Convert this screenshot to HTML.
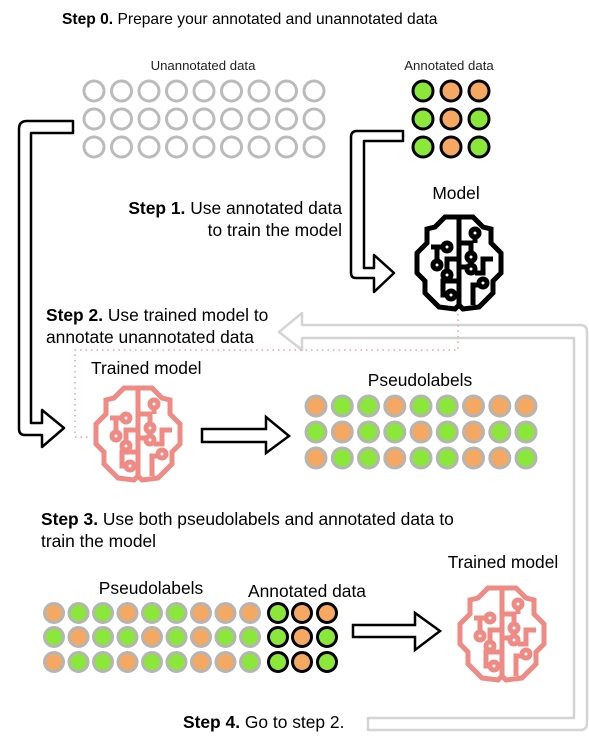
<!DOCTYPE html>
<html><head><meta charset="utf-8"><style>
html,body{margin:0;padding:0;background:#fff;}
svg{display:block;font-family:"Liberation Sans",sans-serif;}
</style></head><body>
<svg width="589" height="748" viewBox="0 0 589 748" xmlns="http://www.w3.org/2000/svg">
<defs>
<g id="brain" fill="none" stroke-width="5" stroke-linejoin="miter">
<path d="M50,4 L36,4 L26,14 L18,16 L18,30 L8,40 L8,60 L16,68 L16,80 L30,94 L46,96 L50,92 L54,96 L70,94 L84,80 L84,68 L92,60 L92,40 L82,30 L82,16 L74,14 L64,4 Z M50,4 V92"/>
<path d="M22,34 H34"/><circle cx="38" cy="34" r="4"/>
<path d="M28,34 V48"/><circle cx="28" cy="52" r="4"/>
<path d="M50,46 H38 V58"/><circle cx="38" cy="62" r="4"/>
<path d="M50,68 H34 V82 H38"/><circle cx="42" cy="82" r="4"/>
<path d="M50,30 H62 V40"/><circle cx="66" cy="20" r="4"/><path d="M66,24 V30"/><circle cx="62" cy="44" r="4"/>
<path d="M50,54 H58"/><circle cx="62" cy="56" r="4"/>
<path d="M84,46 H74 V60 H66"/>
<path d="M64,92 V72 H70"/><circle cx="74" cy="70" r="4"/>
</g>
</defs>

<text x="62" y="24" font-size="15.6" fill="#000"><tspan font-weight="bold">Step 0.</tspan> Prepare your annotated and unannotated data</text>
<text x="203" y="70" font-size="13.2" text-anchor="middle" fill="#222">Unannotated data</text>
<text x="449" y="70" font-size="13.2" text-anchor="middle" fill="#222">Annotated data</text>

<g fill="#fff" stroke="#bbb" stroke-width="3">
<circle cx="94" cy="91" r="10"/><circle cx="121.5" cy="91" r="10"/><circle cx="149" cy="91" r="10"/><circle cx="176.5" cy="91" r="10"/><circle cx="204" cy="91" r="10"/><circle cx="231.5" cy="91" r="10"/><circle cx="259" cy="91" r="10"/><circle cx="286.5" cy="91" r="10"/><circle cx="314" cy="91" r="10"/>
<circle cx="94" cy="119" r="10"/><circle cx="121.5" cy="119" r="10"/><circle cx="149" cy="119" r="10"/><circle cx="176.5" cy="119" r="10"/><circle cx="204" cy="119" r="10"/><circle cx="231.5" cy="119" r="10"/><circle cx="259" cy="119" r="10"/><circle cx="286.5" cy="119" r="10"/><circle cx="314" cy="119" r="10"/>
<circle cx="94" cy="147" r="10"/><circle cx="121.5" cy="147" r="10"/><circle cx="149" cy="147" r="10"/><circle cx="176.5" cy="147" r="10"/><circle cx="204" cy="147" r="10"/><circle cx="231.5" cy="147" r="10"/><circle cx="259" cy="147" r="10"/><circle cx="286.5" cy="147" r="10"/><circle cx="314" cy="147" r="10"/>
</g>

<g stroke="#000" stroke-width="3">
<circle cx="423" cy="91" r="10" fill="#8be83a"/><circle cx="451" cy="91" r="10" fill="#f5a862"/><circle cx="479" cy="91" r="10" fill="#f5a862"/>
<circle cx="423" cy="119" r="10" fill="#8be83a"/><circle cx="451" cy="119" r="10" fill="#f5a862"/><circle cx="479" cy="119" r="10" fill="#8be83a"/>
<circle cx="423" cy="147" r="10" fill="#8be83a"/><circle cx="451" cy="147" r="10" fill="#f5a862"/><circle cx="479" cy="147" r="10" fill="#8be83a"/>
</g>

<path d="M73,121 H27 Q19,121 19,129 V429 Q19,435 25,435 H42 V447 L64,428 L42,410 V423 H31 V133 H73 Z" fill="#fff" stroke="#000" stroke-width="2.5" stroke-linejoin="round"/>
<path d="M403,131 H357 Q351,131 351,137 V273 Q351,278 356,278 H374 V292 L394,273 L374,255 V268 H364 V141 H403 Z" fill="#fff" stroke="#000" stroke-width="2.5" stroke-linejoin="round"/>

<text x="342" y="214" font-size="17.4" text-anchor="end"><tspan font-weight="bold">Step 1.</tspan> Use annotated data</text>
<text x="342" y="236" font-size="17.4" text-anchor="end">to train the model</text>
<text x="456" y="199" font-size="17.4" text-anchor="middle">Model</text>

<g transform="translate(409,213)" stroke="#000"><use href="#brain"/></g>

<path d="M368,730 H580 Q587,730 587,723 V332 Q587,325 580,325 H302 V313 L279,332 L302,350 V338 H574 V718 H368 Z" fill="#fff" stroke="#d4d4d4" stroke-width="2.5" stroke-linejoin="round"/>

<text x="46" y="321" font-size="17.4"><tspan font-weight="bold">Step 2.</tspan> Use trained model to</text>
<text x="46" y="343" font-size="17.4">annotate unannotated data</text>

<path d="M458,314 V350 H75 V437 H89" fill="none" stroke="#f0a0a0" stroke-width="1.5" stroke-dasharray="1.5,4"/>

<text x="91" y="374" font-size="17.4">Trained model</text>
<g transform="translate(88,384)" stroke="#f08a84"><use href="#brain"/></g>

<path d="M202,429 H266 V417 L289,436 L266,453 V442 H202 Z" fill="#fff" stroke="#000" stroke-width="2.5"/>

<text x="420" y="386" font-size="17.4" text-anchor="middle">Pseudolabels</text>
<g stroke="#b5b5b5" stroke-width="3">
<circle cx="316" cy="406" r="10" fill="#f5a862"/><circle cx="342.3" cy="406" r="10" fill="#8be83a"/><circle cx="368.5" cy="406" r="10" fill="#8be83a"/><circle cx="394.8" cy="406" r="10" fill="#f5a862"/><circle cx="421" cy="406" r="10" fill="#8be83a"/><circle cx="447.3" cy="406" r="10" fill="#8be83a"/><circle cx="473.5" cy="406" r="10" fill="#f5a862"/><circle cx="499.8" cy="406" r="10" fill="#f5a862"/><circle cx="526" cy="406" r="10" fill="#f5a862"/>
<circle cx="316" cy="432" r="10" fill="#8be83a"/><circle cx="342.3" cy="432" r="10" fill="#f5a862"/><circle cx="368.5" cy="432" r="10" fill="#8be83a"/><circle cx="394.8" cy="432" r="10" fill="#8be83a"/><circle cx="421" cy="432" r="10" fill="#f5a862"/><circle cx="447.3" cy="432" r="10" fill="#8be83a"/><circle cx="473.5" cy="432" r="10" fill="#f5a862"/><circle cx="499.8" cy="432" r="10" fill="#8be83a"/><circle cx="526" cy="432" r="10" fill="#8be83a"/>
<circle cx="316" cy="458" r="10" fill="#f5a862"/><circle cx="342.3" cy="458" r="10" fill="#8be83a"/><circle cx="368.5" cy="458" r="10" fill="#8be83a"/><circle cx="394.8" cy="458" r="10" fill="#f5a862"/><circle cx="421" cy="458" r="10" fill="#8be83a"/><circle cx="447.3" cy="458" r="10" fill="#8be83a"/><circle cx="473.5" cy="458" r="10" fill="#f5a862"/><circle cx="499.8" cy="458" r="10" fill="#f5a862"/><circle cx="526" cy="458" r="10" fill="#8be83a"/>
</g>

<text x="41" y="525" font-size="17.4"><tspan font-weight="bold">Step 3.</tspan> Use both pseudolabels and annotated data to</text>
<text x="41" y="547" font-size="17.4">train the model</text>

<text x="503" y="568" font-size="17.4" text-anchor="middle">Trained model</text>
<text x="151" y="594" font-size="17.4" text-anchor="middle">Pseudolabels</text>
<text x="307" y="597" font-size="17.4" text-anchor="middle">Annotated data</text>

<g stroke="#b5b5b5" stroke-width="3">
<circle cx="54" cy="613" r="9.5" fill="#f5a862"/><circle cx="78.5" cy="613" r="9.5" fill="#8be83a"/><circle cx="103" cy="613" r="9.5" fill="#8be83a"/><circle cx="127.5" cy="613" r="9.5" fill="#f5a862"/><circle cx="152" cy="613" r="9.5" fill="#8be83a"/><circle cx="176.5" cy="613" r="9.5" fill="#8be83a"/><circle cx="201" cy="613" r="9.5" fill="#f5a862"/><circle cx="225.5" cy="613" r="9.5" fill="#f5a862"/><circle cx="250" cy="613" r="9.5" fill="#f5a862"/>
<circle cx="54" cy="637" r="9.5" fill="#8be83a"/><circle cx="78.5" cy="637" r="9.5" fill="#f5a862"/><circle cx="103" cy="637" r="9.5" fill="#8be83a"/><circle cx="127.5" cy="637" r="9.5" fill="#8be83a"/><circle cx="152" cy="637" r="9.5" fill="#f5a862"/><circle cx="176.5" cy="637" r="9.5" fill="#8be83a"/><circle cx="201" cy="637" r="9.5" fill="#f5a862"/><circle cx="225.5" cy="637" r="9.5" fill="#8be83a"/><circle cx="250" cy="637" r="9.5" fill="#8be83a"/>
<circle cx="54" cy="662" r="9.5" fill="#f5a862"/><circle cx="78.5" cy="662" r="9.5" fill="#8be83a"/><circle cx="103" cy="662" r="9.5" fill="#8be83a"/><circle cx="127.5" cy="662" r="9.5" fill="#f5a862"/><circle cx="152" cy="662" r="9.5" fill="#8be83a"/><circle cx="176.5" cy="662" r="9.5" fill="#8be83a"/><circle cx="201" cy="662" r="9.5" fill="#f5a862"/><circle cx="225.5" cy="662" r="9.5" fill="#f5a862"/><circle cx="250" cy="662" r="9.5" fill="#8be83a"/>
</g>
<g stroke="#000" stroke-width="3">
<circle cx="278" cy="613" r="9.5" fill="#8be83a"/><circle cx="302" cy="613" r="9.5" fill="#f5a862"/><circle cx="327" cy="613" r="9.5" fill="#f5a862"/>
<circle cx="278" cy="637" r="9.5" fill="#8be83a"/><circle cx="302" cy="637" r="9.5" fill="#f5a862"/><circle cx="327" cy="637" r="9.5" fill="#8be83a"/>
<circle cx="278" cy="662" r="9.5" fill="#8be83a"/><circle cx="302" cy="662" r="9.5" fill="#f5a862"/><circle cx="327" cy="662" r="9.5" fill="#8be83a"/>
</g>

<path d="M353,625 H415 V613 L440,631 L415,650 V637 H353 Z" fill="#fff" stroke="#000" stroke-width="2.5"/>

<g transform="translate(452,584)" stroke="#f08a84"><use href="#brain"/></g>

<text x="183" y="728" font-size="17.4"><tspan font-weight="bold">Step 4.</tspan> Go to step 2.</text>
</svg>
</body></html>
